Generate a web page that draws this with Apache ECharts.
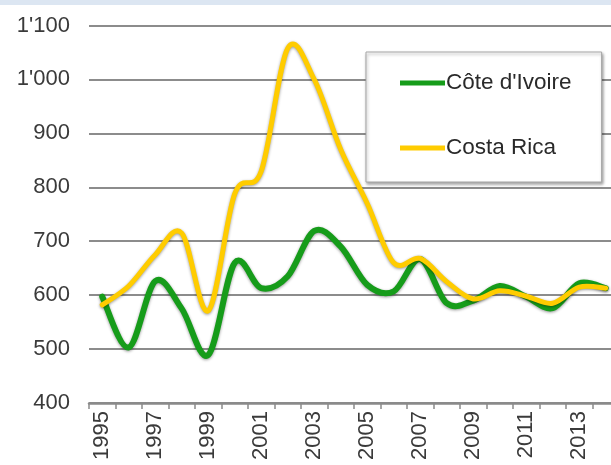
<!DOCTYPE html>
<html>
<head>
<meta charset="utf-8">
<script src="https://cdn.jsdelivr.net/npm/echarts@6/dist/echarts.min.js"></script>
<style>
  html, body { margin: 0; padding: 0; background: #fff; }
  #chart { width: 611px; height: 465px; }
</style>
</head>
<body>
<div id="chart"></div>
<script>
// Years on the category axis
const years = ['1995','1996','1997','1998','1999','2000','2001','2002','2003','2004',
               '2005','2006','2007','2008','2009','2010','2011','2012','2013','2014'];

// Series values
const coteIvoire = [597, 503, 626, 575, 489, 660, 613, 635, 719, 690,
                    619, 607, 667, 585, 590, 617, 597, 576, 622, 613];
const costaRica  = [582, 617, 675, 715, 571, 788, 830, 1058, 1000, 870,
                    770, 660, 668, 625, 593, 608, 598, 585, 615, 613];

// Value axis range
const yMin = 400, yMax = 1100, yStep = 100;

const seriesNames = ["Côte d'Ivoire", 'Costa Rica'];
const seriesColors = ['#169c1a', '#ffcc00'];

function fmtThousands(v) {
  const s = String(Math.round(v));
  return s.length > 3 ? s.slice(0, s.length - 3) + "'" + s.slice(-3) : s;
}

// Smooth line through every point (cardinal spline, tension 1/6 like spreadsheet charts).
function splineRenderer(values, color, width) {
  return function (params, api) {
    if (params.dataIndexInside !== 0) return null;
    const pts = values.map((v, i) => api.coord([i, v]));
    let d = 'M' + pts[0][0] + ' ' + pts[0][1];
    for (let i = 0; i < pts.length - 1; i++) {
      const p0 = pts[Math.max(i - 1, 0)];
      const p1 = pts[i];
      const p2 = pts[i + 1];
      const p3 = pts[Math.min(i + 2, pts.length - 1)];
      const c1x = p1[0] + (p2[0] - p0[0]) / 6;
      const c1y = p1[1] + (p2[1] - p0[1]) / 6;
      const c2x = p2[0] - (p3[0] - p1[0]) / 6;
      const c2y = p2[1] - (p3[1] - p1[1]) / 6;
      d += ' C' + c1x + ' ' + c1y + ' ' + c2x + ' ' + c2y + ' ' + p2[0] + ' ' + p2[1];
    }
    return {
      type: 'path',
      shape: { pathData: d },
      style: {
        fill: 'none',
        stroke: color,
        lineWidth: width,
        lineCap: 'round',
        lineJoin: 'round',
        shadowColor: 'rgba(0,0,0,0.4)',
        shadowBlur: 3,
        shadowOffsetY: 1
      }
    };
  };
}

const chart = echarts.init(document.getElementById('chart'), null, { renderer: 'canvas' });

const textColor = '#3a3a3a';
const fontFamily = 'Arial, "Liberation Sans", sans-serif';

chart.setOption({
  animation: false,
  backgroundColor: '#ffffff',
  graphic: [
    { type: 'rect', left: 0, top: 0, shape: { width: 611, height: 5 }, style: { fill: '#dce6f2' }, z: 0 }
  ],
  grid: { left: 89, right: -8, top: 25.5, bottom: 62, containLabel: false, outerBoundsMode: 'none' },
  legend: {
    orient: 'vertical',
    left: 366,
    top: 52,
    data: seriesNames,
    icon: 'rect',
    itemWidth: 45,
    itemHeight: 5,
    itemGap: 41,
    padding: [19, 30, 22, 34],
    backgroundColor: '#ffffff',
    borderColor: '#a6a6a6',
    borderWidth: 1,
    shadowColor: 'rgba(0,0,0,0.35)',
    shadowBlur: 3,
    shadowOffsetX: 1,
    shadowOffsetY: 2,
    textStyle: { color: '#2a2a2a', fontSize: 22.5, fontFamily: fontFamily, lineHeight: 24, padding: [0, 0, 0, -4] }
  },
  xAxis: {
    type: 'category',
    data: years,
    boundaryGap: true,
    axisLine: { show: true, lineStyle: { color: '#8a8a8a', width: 2.5 } },
    axisTick: { show: true, interval: 0, length: 6, lineStyle: { color: '#8a8a8a', width: 1.5 } },
    axisLabel: {
      interval: 1,
      rotate: 90,
      margin: 8,
      color: textColor,
      fontSize: 22,
      fontFamily: fontFamily
    },
    splitLine: { show: false }
  },
  yAxis: {
    type: 'value',
    min: yMin,
    max: yMax,
    interval: yStep,
    axisLine: { show: false },
    axisTick: { show: false },
    axisLabel: {
      margin: 19,
      color: textColor,
      fontSize: 22,
      fontFamily: fontFamily,
      formatter: fmtThousands
    },
    splitLine: { show: true, lineStyle: { color: '#8c8c8c', width: 2 } }
  },
  series: [
    {
      name: seriesNames[0],
      type: 'custom',
      data: coteIvoire.map((v, i) => [i, v]),
      encode: { x: 0, y: 1 },
      z: 3,
      clip: false,
      itemStyle: { color: seriesColors[0] },
      renderItem: splineRenderer(coteIvoire, seriesColors[0], 6)
    },
    {
      name: seriesNames[1],
      type: 'custom',
      data: costaRica.map((v, i) => [i, v]),
      encode: { x: 0, y: 1 },
      z: 4,
      clip: false,
      itemStyle: { color: seriesColors[1] },
      renderItem: splineRenderer(costaRica, seriesColors[1], 5)
    }
  ]
});
</script>
</body>
</html>
